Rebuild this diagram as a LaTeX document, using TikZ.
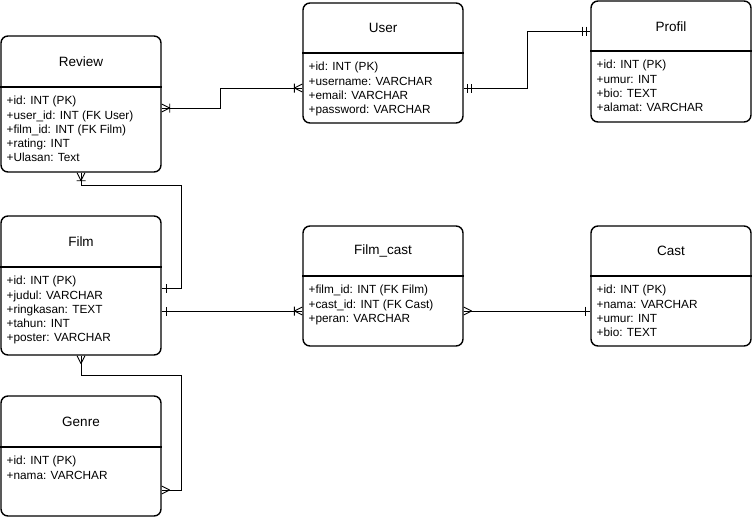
\documentclass[tikz,border=0pt]{standalone}
\usepackage{fontspec}
\setmainfont{Liberation Sans}
\usetikzlibrary{arrows.meta}

%% ER end marks (line runs right up to the entity)
\pgfdeclarearrow{
  name = ERmany,
  setup code = {
    \pgfarrowssettipend{0pt}
    \pgfarrowssetlineend{0pt}
    \pgfarrowssetbackend{-9pt}
  },
  drawing code = {
    \pgfsetdash{}{0pt}
    \pgfpathmoveto{\pgfqpoint{-8pt}{0pt}}
    \pgfpathlineto{\pgfqpoint{0pt}{4pt}}
    \pgfpathmoveto{\pgfqpoint{-8pt}{0pt}}
    \pgfpathlineto{\pgfqpoint{0pt}{-4pt}}
    \pgfusepathqstroke
  }
}
\pgfdeclarearrow{
  name = ERoneMany,
  setup code = {
    \pgfarrowssettipend{0pt}
    \pgfarrowssetlineend{0pt}
    \pgfarrowssetbackend{-9pt}
  },
  drawing code = {
    \pgfsetdash{}{0pt}
    \pgfpathmoveto{\pgfqpoint{-8pt}{0pt}}
    \pgfpathlineto{\pgfqpoint{0pt}{4pt}}
    \pgfpathmoveto{\pgfqpoint{-8pt}{0pt}}
    \pgfpathlineto{\pgfqpoint{0pt}{-4pt}}
    \pgfpathmoveto{\pgfqpoint{-8pt}{4.5pt}}
    \pgfpathlineto{\pgfqpoint{-8pt}{-4.5pt}}
    \pgfusepathqstroke
  }
}
\pgfdeclarearrow{
  name = ERone,
  setup code = {
    \pgfarrowssettipend{0pt}
    \pgfarrowssetlineend{0pt}
    \pgfarrowssetbackend{-6pt}
  },
  drawing code = {
    \pgfsetdash{}{0pt}
    \pgfpathmoveto{\pgfqpoint{-4.5pt}{4.5pt}}
    \pgfpathlineto{\pgfqpoint{-4.5pt}{-4.5pt}}
    \pgfusepathqstroke
  }
}
\pgfdeclarearrow{
  name = ERmandOne,
  setup code = {
    \pgfarrowssettipend{0pt}
    \pgfarrowssetlineend{0pt}
    \pgfarrowssetbackend{-9pt}
  },
  drawing code = {
    \pgfsetdash{}{0pt}
    \pgfpathmoveto{\pgfqpoint{-4pt}{4.5pt}}
    \pgfpathlineto{\pgfqpoint{-4pt}{-4.5pt}}
    \pgfpathmoveto{\pgfqpoint{-8pt}{4.5pt}}
    \pgfpathlineto{\pgfqpoint{-8pt}{-4.5pt}}
    \pgfusepathqstroke
  }
}

\tikzset{
  entity/.style = {rectangle, rounded corners=7pt, draw=black,
                   line width=1.4pt, minimum width=160pt, inner sep=0pt},
  hline/.style  = {line width=1.4pt, draw=black},
  etitle/.style = {font=\fontsize{13.5}{16}\selectfont, inner sep=0pt},
  eattr/.style  = {font=\fontsize{11.8}{14.3}\selectfont, align=left,
                   anchor=north west, inner sep=0pt},
  rel/.style    = {line width=0.9pt, draw=black},
}

\begin{document}
\begin{tikzpicture}[x=1pt, y=-1pt]
\useasboundingbox (0,0) rectangle (752,517);

%% ── Left column: Review, Film, Genre ─────────────────────
\node[entity, minimum height=136pt] (review) at (81,104) {};
\draw[hline] (review.west |- 0,87) -- (review.east |- 0,87);
\node[etitle] (reviewT) at (81,61.5) {Review};
\node[eattr] (reviewA) at (6.5,96)
  {+id: INT (PK)\\+user\_id: INT (FK User)\\+film\_id: INT (FK Film)\\+rating: INT\\+Ulasan: Text};

\node[entity, minimum height=139pt] (film) at (81,285.5) {};
\draw[hline] (film.west |- 0,267) -- (film.east |- 0,267);
\node[etitle] (filmT) at (81,241.5) {Film};
\node[eattr] (filmA) at (6.5,276)
  {+id: INT (PK)\\+judul: VARCHAR\\+ringkasan: TEXT\\+tahun: INT\\+poster: VARCHAR};

\node[entity, minimum height=120pt] (genre) at (81,456) {};
\draw[hline] (genre.west |- 0,447) -- (genre.east |- 0,447);
\node[etitle] (genreT) at (81,421.5) {Genre};
\node[eattr] (genreA) at (6.5,456)
  {+id: INT (PK)\\+nama: VARCHAR};

%% ── Middle column: User, Film_cast ───────────────────────
\node[entity, minimum height=120pt] (user) at (383,63) {};
\draw[hline] (user.west |- 0,53) -- (user.east |- 0,53);
\node[etitle] (userT) at (383,28) {User};
\node[eattr] (userA) at (308.5,62)
  {+id: INT (PK)\\+username: VARCHAR\\+email: VARCHAR\\+password: VARCHAR};

\node[entity, minimum height=120pt] (filmcast) at (383,286) {};
\draw[hline] (filmcast.west |- 0,276) -- (filmcast.east |- 0,276);
\node[etitle] (filmcastT) at (383,251) {Film\_cast};
\node[eattr] (filmcastA) at (308.5,285)
  {+film\_id: INT (FK Film)\\+cast\_id: INT (FK Cast)\\+peran: VARCHAR};

%% ── Right column: Profil, Cast ───────────────────────────
\node[entity, minimum height=121pt] (profil) at (671,61.5) {};
\draw[hline] (profil.west |- 0,51) -- (profil.east |- 0,51);
\node[etitle] (profilT) at (671,26.5) {Profil};
\node[eattr] (profilA) at (596.5,60)
  {+id: INT (PK)\\+umur: INT\\+bio: TEXT\\+alamat: VARCHAR};

\node[entity, minimum height=120pt] (cast) at (671,286) {};
\draw[hline] (cast.west |- 0,276) -- (cast.east |- 0,276);
\node[etitle] (castT) at (671,251) {Cast};
\node[eattr] (castA) at (596.5,285)
  {+id: INT (PK)\\+nama: VARCHAR\\+umur: INT\\+bio: TEXT};

%% ── Relations ────────────────────────────────────────────
\draw[rel, {ERoneMany}-{ERoneMany}] (review.east |- 0,108) -| (220,88) -- (user.west |- 0,88);
\draw[rel, {ERmandOne}-{ERmandOne}] (user.east |- 0,88) -| (527,31) -- (profil.west |- 0,31);
\draw[rel, {ERoneMany}-{ERone}] (review.south) |- (181,185) |- (film.east |- 0,288);
\draw[rel, {ERone}-{ERoneMany}] (film.east |- 0,311) -- (filmcast.west |- 0,311);
\draw[rel, {ERmany}-{ERone}] (filmcast.east |- 0,311) -- (cast.west |- 0,311);
\draw[rel, {ERmany}-{ERmany}] (film.south) |- (181,375) |- (genre.east |- 0,490);

\end{tikzpicture}
\end{document}
